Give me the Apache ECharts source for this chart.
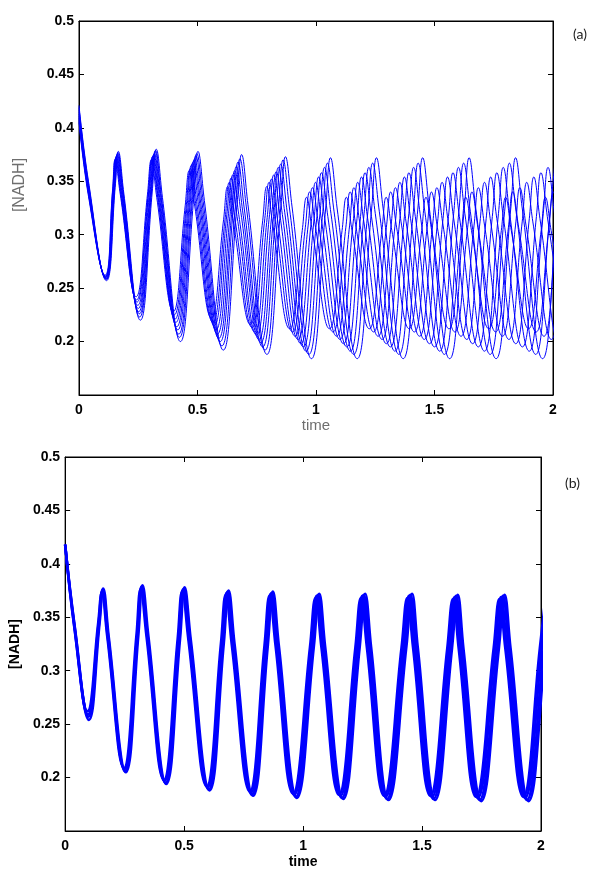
<!DOCTYPE html>
<html>
<head>
<meta charset="utf-8">
<script src="https://cdn.jsdelivr.net/npm/echarts@6/dist/echarts.min.js"></script>
<style>
html,body{margin:0;padding:0;background:#fff;}
#chart{width:600px;height:879px;}
</style>
</head>
<body>
<div id="chart"></div>
<script>
// ---- axis ticks ----
const xTicks = [0, 0.5, 1, 1.5, 2];
const yTicks = [0.2, 0.25, 0.3, 0.35, 0.4, 0.45, 0.5];

// ---- panel (a): nine traces [time, NADH] (troughs, upper edges, peaks) ----
const nadhA0 = [[0,0.405],[0.04,0.336],[0.110,0.262],[0.142,0.343],[0.152,0.370],[0.174,0.338],[0.241,0.242],[0.289,0.338],[0.305,0.370],[0.328,0.335],[0.398,0.228],[0.448,0.327],[0.465,0.360],[0.489,0.326],[0.559,0.222],[0.610,0.314],[0.627,0.345],[0.651,0.313],[0.723,0.216],[0.775,0.313],[0.792,0.345],[0.816,0.312],[0.889,0.212],[0.942,0.304],[0.960,0.335],[0.984,0.304],[1.057,0.212],[1.110,0.304],[1.128,0.335],[1.152,0.304],[1.225,0.212],[1.278,0.304],[1.296,0.335],[1.320,0.304],[1.393,0.212],[1.446,0.304],[1.464,0.335],[1.488,0.304],[1.561,0.212],[1.614,0.304],[1.632,0.335],[1.656,0.304],[1.729,0.212],[1.782,0.304],[1.800,0.335],[1.824,0.304],[1.897,0.212],[1.950,0.304],[1.968,0.335],[1.992,0.304],[2.065,0.212]];
const nadhA1 = [[0,0.407],[0.04,0.338],[0.111,0.261],[0.143,0.344],[0.154,0.371],[0.176,0.338],[0.243,0.239],[0.292,0.338],[0.308,0.371],[0.332,0.335],[0.402,0.225],[0.453,0.328],[0.470,0.362],[0.494,0.326],[0.565,0.218],[0.617,0.316],[0.634,0.349],[0.658,0.315],[0.731,0.213],[0.784,0.315],[0.802,0.349],[0.827,0.314],[0.901,0.209],[0.955,0.307],[0.973,0.340],[0.998,0.307],[1.072,0.209],[1.126,0.307],[1.144,0.340],[1.169,0.307],[1.243,0.209],[1.297,0.307],[1.315,0.340],[1.340,0.307],[1.415,0.209],[1.469,0.307],[1.487,0.340],[1.512,0.307],[1.586,0.209],[1.640,0.307],[1.658,0.340],[1.683,0.307],[1.758,0.209],[1.812,0.307],[1.830,0.340],[1.855,0.307],[1.929,0.209],[1.983,0.307],[2.001,0.340],[2.026,0.307],[2.101,0.209]];
const nadhA2 = [[0,0.409],[0.04,0.339],[0.112,0.261],[0.145,0.344],[0.156,0.372],[0.178,0.338],[0.245,0.237],[0.294,0.339],[0.310,0.373],[0.334,0.335],[0.405,0.221],[0.457,0.329],[0.474,0.365],[0.498,0.328],[0.571,0.215],[0.624,0.319],[0.642,0.353],[0.667,0.317],[0.741,0.209],[0.794,0.316],[0.812,0.352],[0.837,0.315],[0.912,0.205],[0.967,0.309],[0.985,0.344],[1.011,0.309],[1.087,0.205],[1.142,0.309],[1.160,0.344],[1.186,0.309],[1.262,0.205],[1.317,0.309],[1.335,0.344],[1.361,0.309],[1.437,0.205],[1.492,0.309],[1.510,0.344],[1.536,0.309],[1.612,0.205],[1.667,0.309],[1.685,0.344],[1.711,0.309],[1.787,0.205],[1.842,0.309],[1.860,0.344],[1.886,0.309],[1.962,0.205],[2.017,0.309],[2.035,0.344]];
const nadhA3 = [[0,0.411],[0.04,0.341],[0.112,0.260],[0.146,0.345],[0.157,0.373],[0.180,0.338],[0.248,0.234],[0.297,0.339],[0.313,0.374],[0.337,0.335],[0.409,0.218],[0.462,0.330],[0.479,0.367],[0.504,0.328],[0.578,0.211],[0.631,0.320],[0.649,0.356],[0.674,0.319],[0.749,0.206],[0.804,0.319],[0.822,0.356],[0.848,0.318],[0.924,0.202],[0.980,0.312],[0.998,0.349],[1.024,0.312],[1.101,0.202],[1.157,0.312],[1.176,0.349],[1.202,0.312],[1.279,0.202],[1.335,0.312],[1.354,0.349],[1.380,0.312],[1.457,0.202],[1.513,0.312],[1.532,0.349],[1.558,0.312],[1.636,0.202],[1.692,0.312],[1.711,0.349],[1.737,0.312],[1.814,0.202],[1.870,0.312],[1.889,0.349],[1.915,0.312],[1.993,0.202],[2.049,0.312],[2.068,0.349]];
const nadhA4 = [[0,0.413],[0.04,0.343],[0.113,0.260],[0.148,0.346],[0.159,0.374],[0.182,0.338],[0.250,0.231],[0.300,0.339],[0.316,0.375],[0.340,0.335],[0.413,0.214],[0.466,0.330],[0.484,0.369],[0.509,0.329],[0.584,0.207],[0.639,0.322],[0.657,0.360],[0.683,0.321],[0.759,0.202],[0.814,0.320],[0.832,0.359],[0.858,0.319],[0.936,0.198],[0.992,0.315],[1.011,0.354],[1.037,0.315],[1.116,0.198],[1.173,0.315],[1.192,0.354],[1.218,0.315],[1.297,0.198],[1.354,0.315],[1.373,0.354],[1.399,0.315],[1.479,0.198],[1.536,0.315],[1.555,0.354],[1.581,0.315],[1.661,0.198],[1.718,0.315],[1.737,0.354],[1.763,0.315],[1.843,0.198],[1.900,0.315],[1.919,0.354],[1.945,0.315],[2.025,0.198],[2.082,0.315],[2.101,0.354]];
const nadhA5 = [[0,0.415],[0.04,0.344],[0.114,0.259],[0.149,0.346],[0.161,0.375],[0.184,0.338],[0.252,0.228],[0.302,0.339],[0.318,0.376],[0.343,0.335],[0.417,0.211],[0.470,0.331],[0.488,0.371],[0.514,0.329],[0.590,0.203],[0.646,0.324],[0.664,0.364],[0.690,0.323],[0.767,0.199],[0.823,0.322],[0.841,0.363],[0.868,0.321],[0.947,0.195],[1.004,0.317],[1.023,0.358],[1.050,0.317],[1.130,0.195],[1.188,0.317],[1.207,0.358],[1.234,0.317],[1.314,0.195],[1.373,0.317],[1.392,0.358],[1.419,0.317],[1.500,0.195],[1.559,0.317],[1.578,0.358],[1.605,0.317],[1.685,0.195],[1.744,0.317],[1.763,0.358],[1.790,0.317],[1.871,0.195],[1.930,0.317],[1.949,0.358],[1.976,0.317],[2.056,0.195]];
const nadhA6 = [[0,0.417],[0.04,0.346],[0.114,0.259],[0.151,0.347],[0.163,0.376],[0.186,0.338],[0.255,0.226],[0.305,0.340],[0.321,0.378],[0.346,0.335],[0.421,0.207],[0.475,0.332],[0.493,0.374],[0.519,0.330],[0.596,0.200],[0.652,0.326],[0.671,0.368],[0.697,0.325],[0.775,0.195],[0.832,0.323],[0.851,0.366],[0.878,0.322],[0.958,0.191],[1.017,0.320],[1.036,0.363],[1.063,0.320],[1.145,0.191],[1.203,0.320],[1.223,0.363],[1.250,0.320],[1.333,0.191],[1.392,0.320],[1.412,0.363],[1.439,0.320],[1.522,0.191],[1.581,0.320],[1.601,0.363],[1.628,0.320],[1.711,0.191],[1.770,0.320],[1.790,0.363],[1.817,0.320],[1.900,0.191],[1.959,0.320],[1.979,0.363],[2.006,0.320],[2.089,0.191]];
const nadhA7 = [[0,0.419],[0.04,0.348],[0.115,0.258],[0.152,0.347],[0.164,0.377],[0.187,0.339],[0.256,0.223],[0.306,0.340],[0.323,0.379],[0.348,0.335],[0.424,0.204],[0.479,0.333],[0.497,0.376],[0.524,0.331],[0.603,0.196],[0.660,0.327],[0.679,0.371],[0.706,0.326],[0.785,0.192],[0.842,0.326],[0.861,0.370],[0.888,0.325],[0.970,0.188],[1.029,0.322],[1.048,0.367],[1.076,0.322],[1.159,0.188],[1.219,0.322],[1.239,0.367],[1.267,0.322],[1.350,0.188],[1.411,0.322],[1.431,0.367],[1.459,0.322],[1.542,0.188],[1.603,0.322],[1.623,0.367],[1.651,0.322],[1.735,0.188],[1.796,0.322],[1.816,0.367],[1.844,0.322],[1.927,0.188],[1.988,0.322],[2.008,0.367]];
const nadhA8 = [[0,0.421],[0.04,0.350],[0.116,0.257],[0.154,0.348],[0.166,0.378],[0.189,0.339],[0.259,0.220],[0.309,0.340],[0.326,0.380],[0.352,0.335],[0.428,0.200],[0.484,0.334],[0.502,0.378],[0.529,0.332],[0.609,0.192],[0.667,0.329],[0.686,0.375],[0.713,0.328],[0.793,0.188],[0.852,0.327],[0.871,0.373],[0.899,0.326],[0.981,0.184],[1.041,0.325],[1.061,0.372],[1.089,0.325],[1.174,0.184],[1.235,0.325],[1.255,0.372],[1.283,0.325],[1.368,0.184],[1.430,0.325],[1.450,0.372],[1.478,0.325],[1.564,0.184],[1.626,0.325],[1.646,0.372],[1.674,0.325],[1.760,0.184],[1.822,0.325],[1.842,0.372],[1.870,0.325],[1.956,0.184],[2.018,0.325],[2.038,0.372]];

// ---- panel (b): four nearly coincident traces [time, NADH] ----
const nadhB0 = [[0,0.418],[0.04,0.338],[0.094,0.262],[0.139,0.345],[0.154,0.373],[0.177,0.332],[0.247,0.209],[0.300,0.334],[0.317,0.376],[0.342,0.332],[0.415,0.198],[0.473,0.330],[0.492,0.374],[0.518,0.329],[0.595,0.192],[0.655,0.326],[0.675,0.371],[0.700,0.325],[0.776,0.187],[0.838,0.324],[0.859,0.370],[0.884,0.324],[0.958,0.185],[1.029,0.322],[1.052,0.368],[1.077,0.322],[1.151,0.184],[1.220,0.322],[1.243,0.368],[1.268,0.322],[1.341,0.183],[1.414,0.322],[1.438,0.368],[1.462,0.322],[1.535,0.183],[1.606,0.321],[1.630,0.367],[1.654,0.321],[1.727,0.182],[1.801,0.321],[1.825,0.367],[1.850,0.321],[1.926,0.182],[1.995,0.321],[2.018,0.367]];
const nadhB1 = [[0,0.418],[0.04,0.339],[0.096,0.259],[0.141,0.345],[0.156,0.375],[0.179,0.332],[0.250,0.208],[0.303,0.334],[0.320,0.378],[0.345,0.332],[0.418,0.197],[0.476,0.330],[0.495,0.376],[0.521,0.329],[0.599,0.191],[0.659,0.326],[0.679,0.373],[0.704,0.325],[0.781,0.186],[0.843,0.324],[0.864,0.372],[0.889,0.324],[0.963,0.184],[1.034,0.322],[1.057,0.370],[1.082,0.322],[1.157,0.183],[1.226,0.322],[1.249,0.370],[1.274,0.322],[1.347,0.182],[1.421,0.322],[1.445,0.370],[1.469,0.322],[1.542,0.182],[1.613,0.321],[1.637,0.369],[1.661,0.321],[1.734,0.181],[1.808,0.321],[1.832,0.369],[1.857,0.321],[1.933,0.181],[2.003,0.321],[2.026,0.369]];
const nadhB2 = [[0,0.418],[0.04,0.341],[0.098,0.257],[0.143,0.345],[0.158,0.376],[0.181,0.332],[0.252,0.206],[0.305,0.334],[0.322,0.379],[0.347,0.332],[0.422,0.195],[0.480,0.330],[0.499,0.377],[0.525,0.329],[0.603,0.189],[0.663,0.326],[0.683,0.374],[0.708,0.325],[0.785,0.184],[0.847,0.324],[0.868,0.373],[0.893,0.324],[0.969,0.182],[1.040,0.322],[1.063,0.371],[1.088,0.322],[1.163,0.181],[1.232,0.322],[1.255,0.371],[1.280,0.322],[1.353,0.180],[1.427,0.322],[1.451,0.371],[1.475,0.322],[1.548,0.180],[1.619,0.321],[1.643,0.370],[1.667,0.321],[1.742,0.179],[1.816,0.321],[1.840,0.370],[1.865,0.321],[1.941,0.179],[2.011,0.321],[2.034,0.370]];
const nadhB3 = [[0,0.418],[0.04,0.342],[0.100,0.254],[0.145,0.345],[0.160,0.377],[0.183,0.332],[0.255,0.205],[0.308,0.334],[0.325,0.380],[0.350,0.332],[0.425,0.194],[0.483,0.330],[0.502,0.378],[0.528,0.329],[0.607,0.188],[0.667,0.326],[0.687,0.375],[0.712,0.325],[0.790,0.183],[0.852,0.324],[0.873,0.374],[0.898,0.324],[0.974,0.181],[1.045,0.322],[1.068,0.372],[1.093,0.322],[1.169,0.180],[1.238,0.322],[1.261,0.372],[1.286,0.322],[1.359,0.179],[1.434,0.322],[1.458,0.372],[1.482,0.322],[1.555,0.179],[1.626,0.321],[1.650,0.371],[1.674,0.321],[1.749,0.178],[1.823,0.321],[1.847,0.371],[1.872,0.321],[1.948,0.178],[2.019,0.321],[2.042,0.371]];

const tracesA = [nadhA0, nadhA1, nadhA2, nadhA3, nadhA4, nadhA5, nadhA6, nadhA7, nadhA8];
const tracesB = [nadhB0, nadhB1, nadhB2, nadhB3];

const chart = echarts.init(document.getElementById('chart'), null, {renderer: 'canvas'});

const labelFont = {color: '#000', fontFamily: 'Liberation Sans, Arial, sans-serif', fontWeight: 'bold', fontSize: 14};
function fmt(v) {
  const r = Math.round(v * 100) / 100;
  return yTicks.concat(xTicks).some(t => Math.abs(t - r) < 1e-9) ? String(r) : '';
}

function makeAxes(g, xName, xNameStyle, xNameGap, yName, yNameStyle, yNameGap) {
  const base = {
    gridIndex: g, type: 'value',
    axisLine: {show: true, onZero: false, lineStyle: {color: '#000', width: 1}},
    axisTick: {show: true, inside: true, length: 5, lineStyle: {color: '#000'}},
    splitLine: {show: false}
  };
  const xa = [
    Object.assign({}, base, {position: 'bottom', min: 0, max: 2, interval: 0.5,
      axisLabel: Object.assign({margin: 8, formatter: fmt}, labelFont),
      name: xName, nameLocation: 'middle', nameGap: xNameGap, nameTextStyle: xNameStyle}),
    Object.assign({}, base, {position: 'top', min: 0, max: 2, interval: 0.5, axisLabel: {show: false}})
  ];
  const ya = [
    Object.assign({}, base, {position: 'left', min: 0.15, max: 0.5, interval: 0.05,
      axisLabel: Object.assign({margin: 5, formatter: fmt}, labelFont),
      name: yName, nameLocation: 'middle', nameGap: yNameGap, nameRotate: 90, nameTextStyle: yNameStyle}),
    Object.assign({}, base, {position: 'right', min: 0.15, max: 0.5, interval: 0.05, axisLabel: {show: false}})
  ];
  return {xa, ya};
}

const greyName = {color: '#6e6e6e', fontFamily: 'Liberation Sans, Arial, sans-serif', fontSize: 15, fontWeight: 'normal'};
const boldName = {color: '#000', fontFamily: 'Liberation Sans, Arial, sans-serif', fontSize: 14, fontWeight: 'bold'};
const axA = makeAxes(0, 'time', greyName, 19, '', greyName, 52);
const axB = makeAxes(1, 'time', boldName, 24, '[NADH]', boldName, 37);

const series = [];
tracesA.forEach(d => series.push({
  type: 'line', xAxisIndex: 0, yAxisIndex: 0, data: d, showSymbol: false,
  smooth: 0.45, clip: true, silent: true,
  lineStyle: {color: '#0000ff', width: 1}
}));
tracesB.forEach(d => series.push({
  type: 'line', xAxisIndex: 2, yAxisIndex: 2, data: d, showSymbol: false,
  smooth: 0.45, clip: true, silent: true,
  lineStyle: {color: '#0000ff', width: 2.6}
}));

chart.setOption({
  animation: false,
  backgroundColor: '#fff',
  grid: [
    {left: 79, top: 21, width: 474, height: 374, show: true, borderColor: '#000', borderWidth: 1, backgroundColor: 'transparent'},
    {left: 65, top: 457, width: 476, height: 374, show: true, borderColor: '#000', borderWidth: 1, backgroundColor: 'transparent'}
  ],
  xAxis: axA.xa.concat(axB.xa),
  yAxis: axA.ya.concat(axB.ya),
  series: series,
  graphic: [
    {type: 'text', x: 20, y: 185, rotation: Math.PI / 2,
      style: {text: '[NADH]', fill: '#6e6e6e', font: '16px "Liberation Sans", Arial, sans-serif', align: 'center', verticalAlign: 'middle'}},
    {type: 'text', left: 573, top: 27, style: {text: '(a)', fill: '#222', font: '14px Lato, "Open Sans", sans-serif'}},
    {type: 'text', left: 565, top: 476, style: {text: '(b)', fill: '#222', font: '14px Lato, "Open Sans", sans-serif'}}
  ]
});
</script>
</body>
</html>
